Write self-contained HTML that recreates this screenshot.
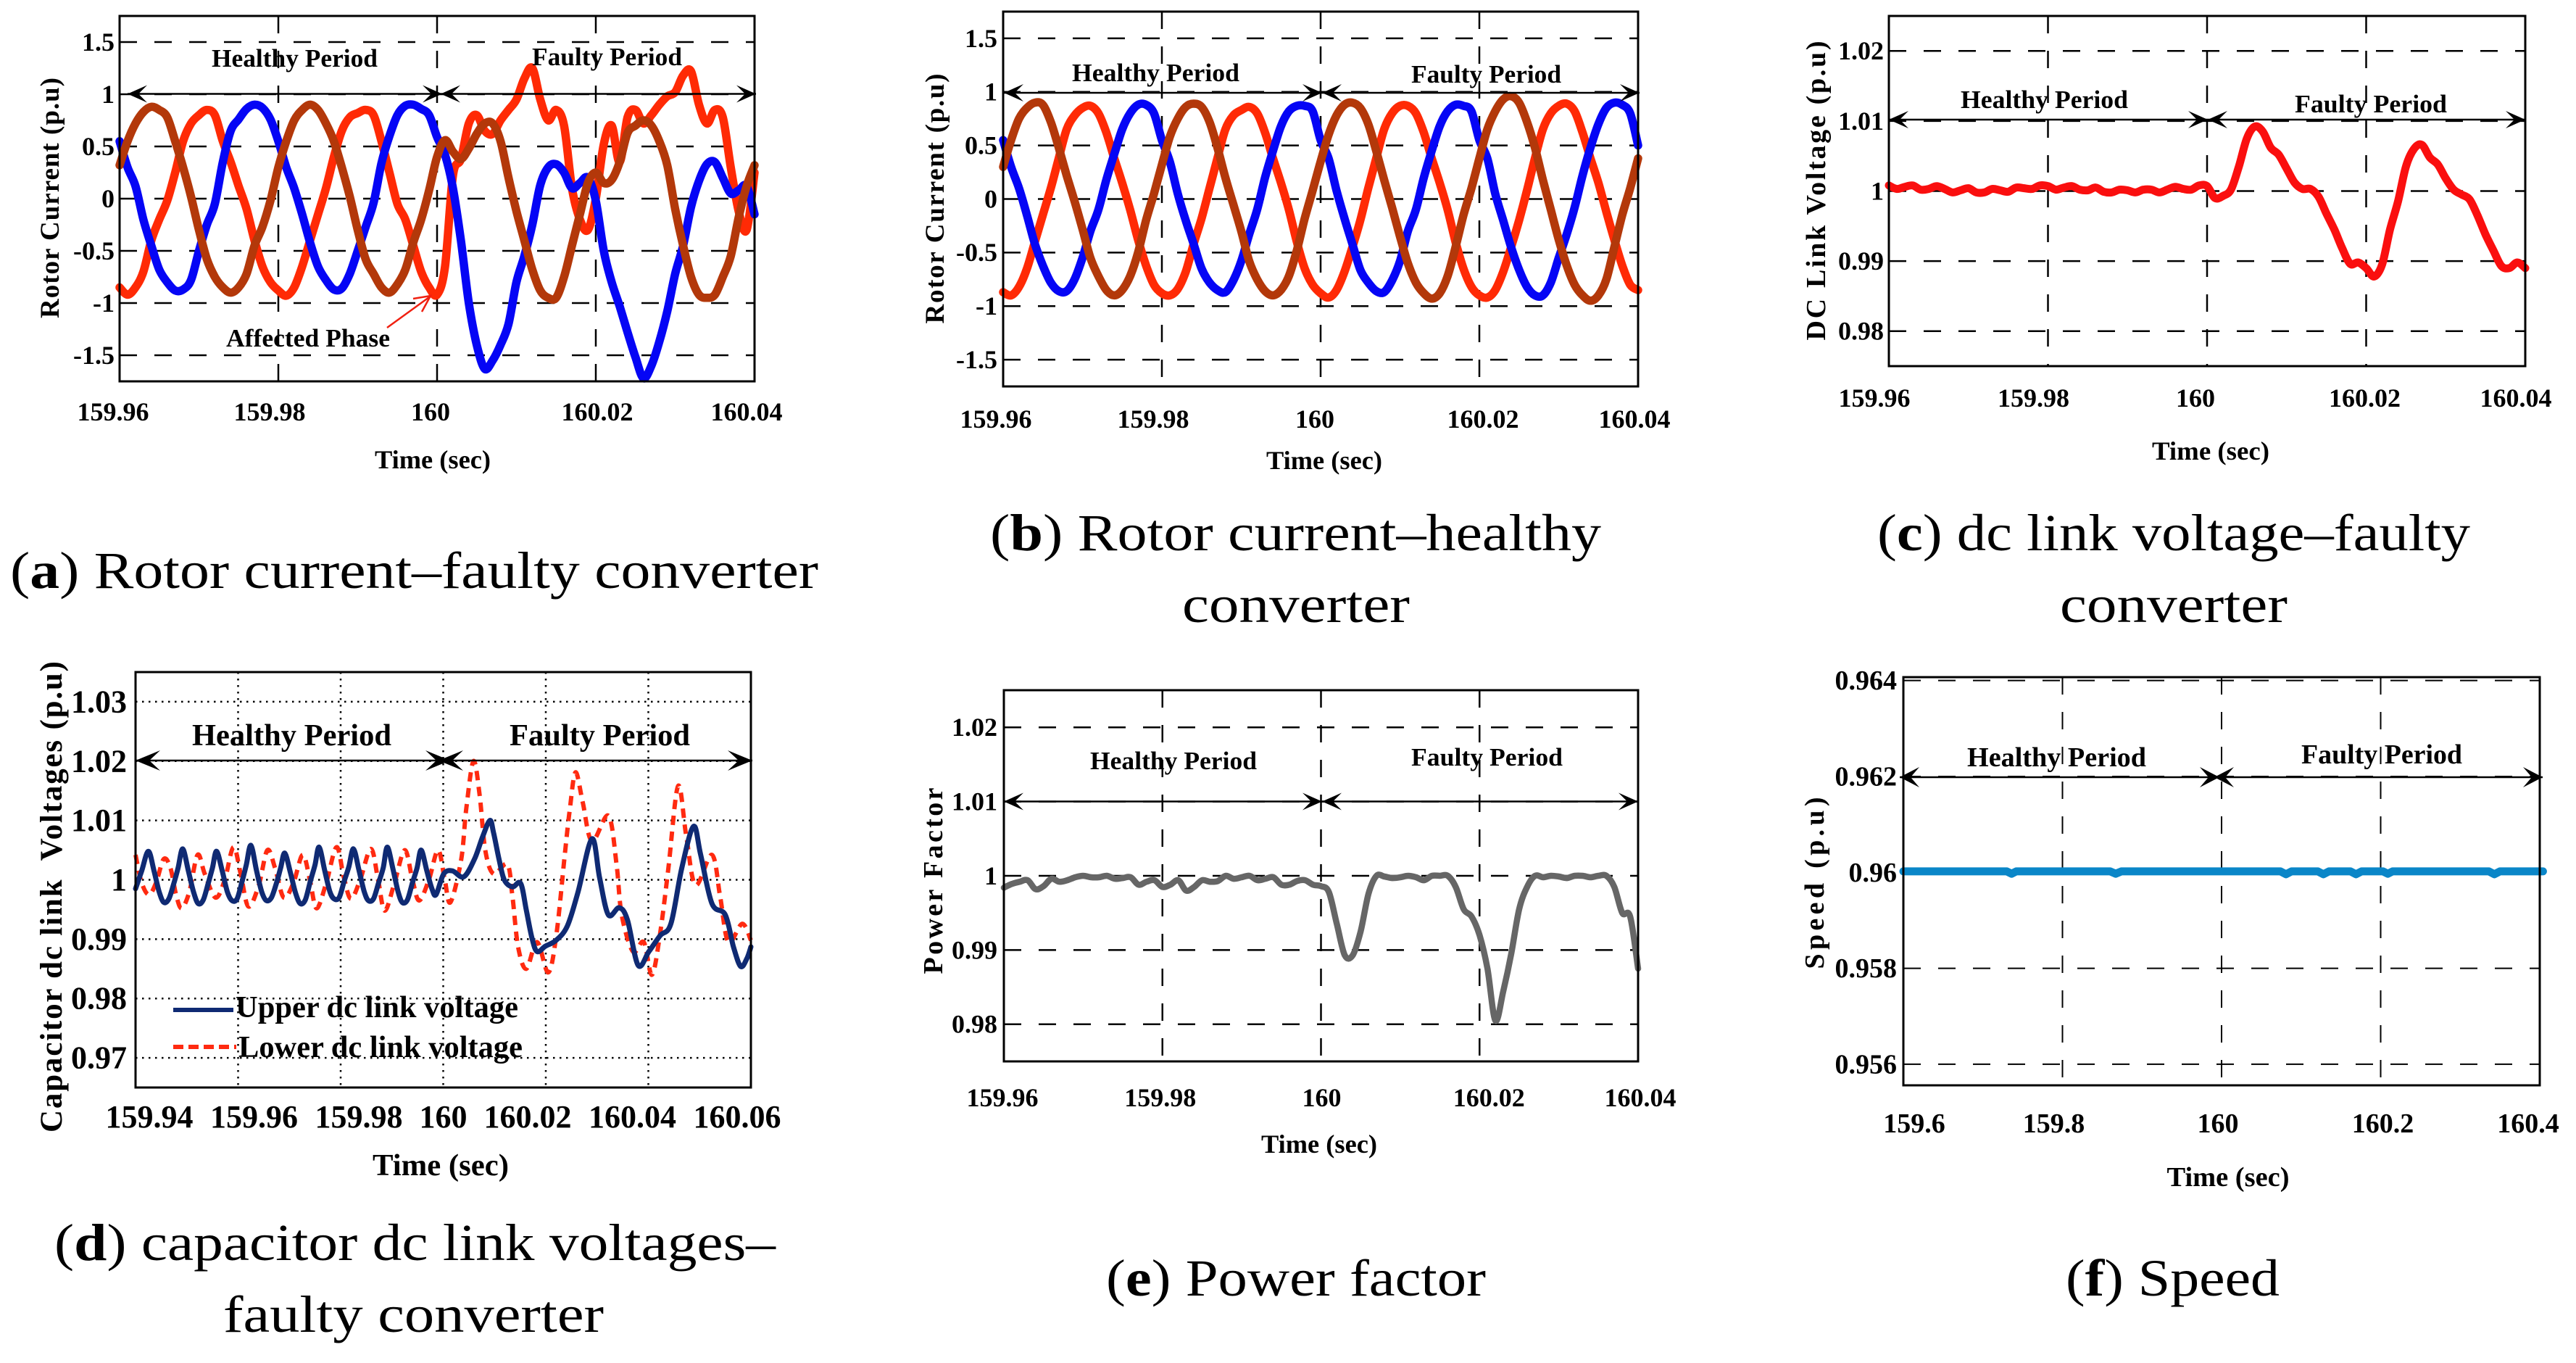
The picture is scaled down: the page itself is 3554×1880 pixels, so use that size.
<!DOCTYPE html>
<html lang="en">
<head>
<meta charset="utf-8">
<title>Converter fault simulation results</title>
<style>
html,body{margin:0;padding:0;background:#fff;}
#figure{display:block;}
text{font-family:"Liberation Serif",serif;fill:#000;}
.t{font-weight:700;}
.cap{font-size:72px;font-weight:400;}
.cap tspan{font-weight:700;}
</style>
</head>
<body>
<svg id="figure" xmlns="http://www.w3.org/2000/svg" width="3554" height="1880" viewBox="0 0 3554 1880">
<rect width="3554" height="1880" fill="#fff"/>
<g id="marks"></g>

<!-- y axis titles -->
<text class="t" transform="translate(81,273) rotate(-90)" text-anchor="middle" font-size="37" textLength="332" lengthAdjust="spacing">Rotor Current (p.u)</text>
<text class="t" transform="translate(1302,274) rotate(-90)" text-anchor="middle" font-size="37" textLength="345" lengthAdjust="spacing">Rotor Current (p.u)</text>
<text class="t" transform="translate(2518,263) rotate(-90)" text-anchor="middle" font-size="38" textLength="413" lengthAdjust="spacing">DC Link Voltage (p.u)</text>
<text class="t" transform="translate(85,1237) rotate(-90)" text-anchor="middle" font-size="43" textLength="650" lengthAdjust="spacing" xml:space="preserve">Capacitor dc link  Voltages (p.u)</text>
<text class="t" transform="translate(1300,1215) rotate(-90)" text-anchor="middle" font-size="38" textLength="257" lengthAdjust="spacing">Power Factor</text>
<text class="t" transform="translate(2516,1218) rotate(-90)" text-anchor="middle" font-size="38" textLength="237" lengthAdjust="spacing">Speed (p.u)</text>

<!-- x axis titles -->
<text class="t" x="597" y="646" text-anchor="middle" font-size="36" textLength="160" lengthAdjust="spacingAndGlyphs">Time (sec)</text>
<text class="t" x="1827" y="647" text-anchor="middle" font-size="36" textLength="160" lengthAdjust="spacingAndGlyphs">Time (sec)</text>
<text class="t" x="3050" y="634" text-anchor="middle" font-size="36" textLength="162" lengthAdjust="spacingAndGlyphs">Time (sec)</text>
<text class="t" x="608" y="1621" text-anchor="middle" font-size="42" textLength="188" lengthAdjust="spacingAndGlyphs">Time (sec)</text>
<text class="t" x="1820" y="1590" text-anchor="middle" font-size="36" textLength="160" lengthAdjust="spacingAndGlyphs">Time (sec)</text>
<text class="t" x="3074" y="1636" text-anchor="middle" font-size="38" textLength="169" lengthAdjust="spacingAndGlyphs">Time (sec)</text>

<!-- period annotations -->
<text class="t" x="292" y="92" font-size="35" textLength="229" lengthAdjust="spacingAndGlyphs">Healthy Period</text>
<text class="t" x="734" y="90" font-size="35" textLength="207" lengthAdjust="spacingAndGlyphs">Faulty Period</text>
<text class="t" x="312" y="478" font-size="35" textLength="226" lengthAdjust="spacingAndGlyphs">Affected Phase</text>
<text class="t" x="1479" y="112" font-size="35" textLength="231" lengthAdjust="spacingAndGlyphs">Healthy Period</text>
<text class="t" x="1947" y="114" font-size="35" textLength="207" lengthAdjust="spacingAndGlyphs">Faulty Period</text>
<text class="t" x="2705" y="149" font-size="35" textLength="231" lengthAdjust="spacingAndGlyphs">Healthy Period</text>
<text class="t" x="3166" y="155" font-size="35" textLength="210" lengthAdjust="spacingAndGlyphs">Faulty Period</text>
<text class="t" x="265" y="1028" font-size="42" textLength="275" lengthAdjust="spacingAndGlyphs">Healthy Period</text>
<text class="t" x="703" y="1028" font-size="42" textLength="249" lengthAdjust="spacingAndGlyphs">Faulty Period</text>
<text class="t" x="1504" y="1061" font-size="35" textLength="230" lengthAdjust="spacingAndGlyphs">Healthy Period</text>
<text class="t" x="1947" y="1056" font-size="35" textLength="209" lengthAdjust="spacingAndGlyphs">Faulty Period</text>
<text class="t" x="2714" y="1057" font-size="38" textLength="247" lengthAdjust="spacingAndGlyphs">Healthy Period</text>
<text class="t" x="3175" y="1053" font-size="38" textLength="222" lengthAdjust="spacingAndGlyphs">Faulty Period</text>

<!-- legend for panel d -->
<g>
<line x1="239" x2="322" y1="1393" y2="1393" stroke="#0f2a73" stroke-width="6"/>
<text class="t" x="325" y="1403" font-size="42" textLength="390" lengthAdjust="spacingAndGlyphs">Upper dc link voltage</text>
<line x1="239" x2="326" y1="1444" y2="1444" stroke="#ff2a10" stroke-width="6" stroke-dasharray="14 7"/>
<text class="t" x="329" y="1458" font-size="42" textLength="392" lengthAdjust="spacingAndGlyphs">Lower dc link voltage</text>
</g>

<!-- captions -->
<text class="cap" x="14" y="811" textLength="1115" lengthAdjust="spacingAndGlyphs">(<tspan>a</tspan>) Rotor current–faulty converter</text>
<text class="cap" x="1366" y="759" textLength="843" lengthAdjust="spacingAndGlyphs">(<tspan>b</tspan>) Rotor current–healthy</text>
<text class="cap" x="1631" y="858" textLength="314" lengthAdjust="spacingAndGlyphs">converter</text>
<text class="cap" x="2590" y="759" textLength="818" lengthAdjust="spacingAndGlyphs">(<tspan>c</tspan>) dc link voltage–faulty</text>
<text class="cap" x="2842" y="858" textLength="314" lengthAdjust="spacingAndGlyphs">converter</text>
<text class="cap" x="75" y="1738" textLength="995" lengthAdjust="spacingAndGlyphs">(<tspan>d</tspan>) capacitor dc link voltages–</text>
<text class="cap" x="308" y="1837" textLength="525" lengthAdjust="spacingAndGlyphs">faulty converter</text>
<text class="cap" x="1526" y="1787" textLength="524" lengthAdjust="spacingAndGlyphs">(<tspan>e</tspan>) Power factor</text>
<text class="cap" x="2850" y="1787" textLength="295" lengthAdjust="spacingAndGlyphs">(<tspan>f</tspan>) Speed</text>
</svg>

<script>
// ---------- Data. Uniform series have one sample per millisecond. ----------
const rotorXTicks = [159.96, 159.98, 160, 160.02, 160.04];
const rotorXLabels = ['159.96', '159.98', '160', '160.02', '160.04'];
const rotorYTicks = [1.5, 1, 0.5, 0, -0.5, -1, -1.5];
const rotorYLabels = ['1.5', '1', '0.5', '0', '-0.5', '-1', '-1.5'];

const faultyRed = [-.85,-.92,-.85,-.7,-.4,-.2,-.02,.25,.55,.72,.8,.85,.8,.55,.35,.12,-.1,-.4,-.65,-.8,-.88,-.93,-.85,-.65,-.4,-.15,.1,.4,.65,.78,.82,.85,.8,.55,.25,-.05,-.2,-.45,-.7,-.85,-.92,-.65,.22,.38,.72,.8,.65,.62,.75,.85,.95,1.15,1.25,.95,.75,.85,.7,.1,-.2,-.3,0,.52,.7,.35,.78,.85,.72,.8,.9,.98,1.02,1.18,1.22,.9,.72,.85,.78,.3,-.12,-.3,.25];
const faultyBlue = [.55,.3,.12,-.2,-.45,-.68,-.8,-.88,-.87,-.78,-.5,-.25,-.05,.35,.65,.76,.86,.9,.87,.76,.55,.3,.1,-.15,-.42,-.65,-.78,-.87,-.86,-.72,-.5,-.27,-.04,.34,.6,.8,.89,.9,.86,.8,.59,.42,.1,-.4,-1.0,-1.4,-1.63,-1.55,-1.4,-1.2,-.8,-.55,-.25,.13,.3,.33,.25,.1,.15,.2,-.02,-.5,-.8,-1.03,-1.28,-1.52,-1.72,-1.6,-1.37,-1.08,-.72,-.45,-.08,.17,.33,.35,.2,.05,.08,.12,-.15];
const faultyBrown = [.32,.55,.72,.83,.88,.85,.78,.55,.3,.02,-.3,-.58,-.75,-.85,-.9,-.85,-.72,-.45,-.27,-.02,.3,.55,.75,.85,.9,.85,.72,.55,.3,.02,-.3,-.58,-.72,-.85,-.9,-.82,-.68,-.42,-.2,.08,.4,.56,.45,.38,.48,.62,.72,.72,.55,.2,-.12,-.4,-.68,-.88,-.95,-.95,-.75,-.45,-.15,.15,.25,.15,.18,.35,.63,.7,.75,.7,.55,.32,-.1,-.45,-.75,-.92,-.95,-.92,-.75,-.55,-.18,.12,.32];

const healthyRed = [-.87,-.9,-.82,-.65,-.4,-.15,.1,.38,.65,.78,.85,.87,.8,.62,.38,.15,-.1,-.38,-.62,-.8,-.88,-.9,-.84,-.68,-.42,-.18,.1,.38,.65,.78,.83,.86,.8,.62,.38,.15,-.1,-.4,-.65,-.8,-.88,-.92,-.85,-.68,-.45,-.2,.1,.38,.65,.8,.87,.87,.8,.62,.38,.15,-.1,-.4,-.65,-.82,-.9,-.92,-.85,-.68,-.45,-.2,.08,.38,.65,.8,.87,.89,.82,.62,.38,.15,-.12,-.38,-.62,-.8,-.85];
const healthyBlue = [.55,.3,.1,-.15,-.42,-.62,-.78,-.86,-.86,-.75,-.55,-.3,-.1,.18,.42,.65,.8,.88,.88,.8,.55,.35,.05,-.2,-.42,-.65,-.78,-.85,-.87,-.76,-.58,-.33,-.1,.2,.45,.68,.82,.87,.87,.82,.55,.38,.08,-.18,-.42,-.66,-.78,-.86,-.87,-.76,-.58,-.3,-.1,.2,.45,.68,.82,.88,.87,.82,.55,.38,.05,-.2,-.45,-.66,-.82,-.9,-.9,-.78,-.55,-.33,-.08,.22,.48,.7,.85,.9,.88,.8,.5];
const healthyBrown = [.3,.55,.75,.85,.9,.88,.72,.48,.22,-.02,-.28,-.55,-.72,-.85,-.9,-.85,-.72,-.5,-.2,.05,.32,.58,.75,.86,.89,.86,.72,.48,.2,-.05,-.3,-.58,-.75,-.86,-.9,-.85,-.72,-.48,-.18,.08,.35,.6,.78,.88,.9,.85,.7,.45,.18,-.08,-.35,-.6,-.78,-.88,-.93,-.88,-.72,-.45,-.15,.1,.38,.65,.82,.93,.96,.9,.72,.48,.18,-.1,-.38,-.62,-.8,-.9,-.95,-.9,-.75,-.45,-.15,.1,.38];

const dcXTicks = rotorXTicks;
const dcXLabels = rotorXLabels;
const dcYTicks = [1.02, 1.01, 1, 0.99, 0.98];
const dcYLabels = ['1.02', '1.01', '1', '0.99', '0.98'];
const dcVoltage = [1.0008,1.0003,1.0006,1.0008,1.0002,1.0003,1.0007,1.0003,.9998,1.0001,1.0004,.9998,.9998,1.0003,1.0001,.9999,1.0005,1.0004,1.0003,1.0008,1.0007,1.0002,1.0005,1.0007,1.0002,1.0001,1.0005,.9999,.9998,1.0002,1.0001,.9998,1.0002,1.0002,.9998,1.0002,1.0006,1.0003,1.0002,1.0008,1.0007,.999,.9993,1.0002,1.0035,1.0075,1.0092,1.0085,1.0062,1.0052,1.0032,1.0012,1.0003,1.0003,.9992,.9968,.9945,.9918,.9896,.9898,.989,.9878,.9895,.9945,.9985,1.0035,1.006,1.0066,1.0048,1.0038,1.0018,1.0002,.9995,.9988,.9965,.9938,.9915,.9893,.989,.9898,.989];

const capXTicks = [159.94, 159.96, 159.98, 160, 160.02, 160.04, 160.06];
const capXLabels = ['159.94', '159.96', '159.98', '160', '160.02', '160.04', '160.06'];
const capYTicks = [1.03, 1.02, 1.01, 1, 0.99, 0.98, 0.97];
const capYLabels = ['1.03', '1.02', '1.01', '1', '0.99', '0.98', '0.97'];
const upperMs = [0,1.2,2.5,3.6,4.6,5.5,6.5,7.5,8.3,9.2,10.3,11.3,12.2,13.2,14.2,15,15.8,16.9,17.9,18.8,19.8,20.8,21.6,22.5,23.6,24.6,25.5,26.5,27.5,28.3,29.1,30.2,31.2,32.1,33.1,34.1,35,35.8,36.9,37.9,38.7,39.7,40.7,41.6,42.5,43.6,44.6,45.4,46.4,47.4,48.3,49.1,50.2,51.2,52,53,54,54.9,55.7,56.8,57.8,58.6,60.1,61.8,64,66.1,67.7,69.1,69.8,70.9,71.9,73.5,75.1,76.2,77.3,78.3,79.9,82,84.2,86.3,89,90.5,92.2,94.3,95.9,98,100.1,102.3,104.4,106.5,108.8,110.2,112.4,115,116.6,118,119.2,120];
const upperVoltage = [.9985,1.0015,1.0048,1.0015,.998,.9962,.9968,.9995,1.002,1.0052,1.0015,.998,.996,.9966,.9995,1.002,1.0048,1.0015,.998,.9965,.9968,.9998,1.0025,1.0058,1.0015,.998,.9965,.997,.9995,1.002,1.0045,1.0012,.9978,.996,.9966,.9998,1.0025,1.0055,1.0015,.998,.9968,.997,.9998,1.0022,1.0052,1.0015,.998,.9965,.9968,.9995,1.002,1.0055,1.0018,.998,.9962,.9966,.9995,1.002,1.005,1.0015,.9985,.9975,1.001,1.0015,1.0005,1.0035,1.0073,1.01,1.008,1.0034,1.0,.9988,.9994,.9949,.9902,.9879,.9888,.9898,.9922,.998,1.0069,1.0003,.9941,.9953,.9933,.9856,.9879,.9906,.9926,1.0019,1.009,1.0042,.996,.9941,.9887,.9854,.9867,.9887];
const lowerMs = [0,1.2,2.6,4,5.5,6.8,7.9,9,10.5,12.1,13.5,15.6,17.4,19.1,20.5,22,24,25.7,27.2,28.9,30.8,32.6,34,35.3,37.2,39.2,40.6,42,43.8,45.9,47.3,48.6,50.5,52.5,54,55.3,57.2,59,60.3,61.4,63.5,64.5,65.9,67.1,68.2,69.8,72.5,73.5,74.6,76.2,78.3,80.5,82.1,83.7,84.7,85.8,87.2,89,92.2,93.8,94.8,97,99.1,100.7,102.3,103.9,105.8,107.4,109.2,112.4,114,115.6,118.3,120];
const lowerVoltage = [1.0042,.9995,.9975,.9995,1.0035,1.002,.9975,.9952,.998,1.0042,1.001,.997,1.0,1.0055,1.001,.9955,.999,1.005,1.002,.997,.9995,1.0042,1.0,.9952,.9995,1.0055,1.0005,.9968,1.0,1.0052,1.0,.9948,.9995,1.005,1.0,.9965,1.0,1.005,1.0,.9962,1.0034,1.012,1.02,1.0143,1.005,1.001,1.0026,.9972,.9887,.985,.9895,.9844,.991,1.0042,1.012,1.0181,1.0131,1.0065,1.0108,1.0026,.9941,.9879,.9895,.984,.991,1.0019,1.0158,1.0073,.9991,1.0042,.9972,.9895,.9926,.9898];

const pfXTicks = rotorXTicks;
const pfXLabels = rotorXLabels;
const pfYTicks = [1.02, 1.01, 1, 0.99, 0.98];
const pfYLabels = ['1.02', '1.01', '1', '0.99', '0.98'];
const powerFactor = [.9984,.9989,.9992,.9994,.9982,.9986,.9996,.9992,.9994,.9998,1,.9998,.9998,1,.9996,.9997,.9998,.9988,.9992,.9994,.9985,.9988,.9994,.998,.9985,.9994,.9992,.9993,1,.9996,.9998,1,.9994,.9996,.9998,.9988,.9988,.9993,.9994,.9988,.9986,.9978,.9935,.9893,.9893,.9925,.9976,1,.9999,.9997,.9998,1,.9998,.9994,1,1,1,.9985,.9955,.9945,.992,.9875,.9805,.9845,.9895,.9955,.9985,1,.9998,1,.9999,.9997,1,1,.9998,1,1,.9985,.995,.9945,.9875];

const speedXTicks = [159.6, 159.8, 160, 160.2, 160.4];
const speedXLabels = ['159.6', '159.8', '160', '160.2', '160.4'];
const speedYTicks = [0.964, 0.962, 0.96, 0.958, 0.956];
const speedYLabels = ['0.964', '0.962', '0.96', '0.958', '0.956'];
const speedTime = [159.6,159.73,159.736,159.742,159.86,159.867,159.874,160.074,160.081,160.088,160.121,160.128,160.135,160.162,160.169,160.176,160.203,160.209,160.215,160.336,160.343,160.35,160.404];
const speedValue = [.96002,.96002,.95997,.96002,.96002,.95997,.96002,.96002,.95996,.96002,.96002,.95996,.96002,.96002,.95996,.96002,.96002,.95997,.96002,.96002,.95996,.96002,.96002];

// ---------- Layout of each panel (plot box, label placement), separate from the data ----------
const panels = [
 {id:'a', box:[165,1041,22,526], xDom:[159.96,160.04], yDom:[-1.75,1.75], xTicks:rotorXTicks, xLabels:rotorXLabels, yTicks:rotorYTicks, yLabels:rotorYLabels,
  xNudge:[-9,-12,-9,2,-11], xBase:580, yRight:158, fs:36, dash:'24 24', gridW:2.5, arrowY:129.5, tips:[176,610,608,1043], head:[27,15,12],
  series:[{n:'red',v:faultyRed,c:'#ff2a05',w:11.5,smooth:1},{n:'blue',v:faultyBlue,c:'#0505f5',w:11.5,smooth:1},{n:'brown',v:faultyBrown,c:'#b3380a',w:11.5,smooth:1}]},
 {id:'b', box:[1384,2260,16,533], xDom:[159.96,160.04], yDom:[-1.75,1.75], xTicks:rotorXTicks, xLabels:rotorXLabels, yTicks:rotorYTicks, yLabels:rotorYLabels,
  xNudge:[-10,-12,-8,5,-5], xBase:590, yRight:1376, fs:36, dash:'24 24', gridW:2.5, arrowY:128, tips:[1385,1824,1824,2262], head:[27,15,12],
  series:[{n:'red',v:healthyRed,c:'#ff2a05',w:11.5,smooth:1},{n:'blue',v:healthyBlue,c:'#0505f5',w:11.5,smooth:1},{n:'brown',v:healthyBrown,c:'#b3380a',w:11.5,smooth:1}]},
 {id:'c', box:[2606,3484,22,505], xDom:[159.96,160.04], yDom:[.975,1.025], xTicks:dcXTicks, xLabels:dcXLabels, yTicks:dcYTicks, yLabels:dcYLabels,
  xNudge:[-20,-20,-16,-2,-13], xBase:561, yRight:2599, fs:36, dash:'24 24', gridW:2.5, arrowY:165, tips:[2606,3046,3046,3484], head:[27,15,12],
  series:[{n:'dc-voltage',v:dcVoltage,c:'#fa0f0f',w:11,smooth:1}]},
 {id:'d', box:[187,1036,927,1500], xDom:[159.94,160.06], yDom:[.965,1.035], xTicks:capXTicks, xLabels:capXLabels, yTicks:capYTicks, yLabels:capYLabels,
  xNudge:[19,22,25,0,-25,-22,-19], xBase:1555, yRight:175, fs:44, dash:'2.5 6.5', gridW:2.5, arrowY:1049, tips:[187,621,605,1038], head:[34,19,14],
  series:[{n:'lower-voltage',v:lowerVoltage,ms:lowerMs,c:'#ff2a10',w:6,dash:'13 9',smooth:1},{n:'upper-voltage',v:upperVoltage,ms:upperMs,c:'#0f2a73',w:7,smooth:1}]},
 {id:'e', box:[1385,2260,952,1464], xDom:[159.96,160.04], yDom:[.975,1.025], xTicks:pfXTicks, xLabels:pfXLabels, yTicks:pfYTicks, yLabels:pfYLabels,
  xNudge:[-2,-3,1,13,3], xBase:1526, yRight:1376, fs:36, dash:'24 24', gridW:2.5, arrowY:1105.5, tips:[1385,1824,1824,2260], head:[27,15,12],
  series:[{n:'power-factor',v:powerFactor,c:'#666666',w:8.5,smooth:1}]},
 {id:'f', box:[2626,3504,934,1497], xDom:[159.6,160.4], yDom:[.95556,.96407], xTicks:speedXTicks, xLabels:speedXLabels, yTicks:speedYTicks, yLabels:speedYLabels,
  xNudge:[15,-12,-5,3,-16], xBase:1562, yRight:2617, fs:38, dash:'24 24', gridW:2, arrowY:1072, tips:[2621,3062,3055,3508], head:[27,15,14],
  series:[{n:'speed',v:speedValue,t:speedTime,c:'#0a86c8',w:11}]}
];

const NS = 'http://www.w3.org/2000/svg';
const root = document.getElementById('marks');

function make(parent, tag, name, props) {
  const el = document.createElementNS(NS, tag);
  for (const k in props) el.setAttribute(k, props[k]);
  
  
  parent.appendChild(el);
  return el;
}
function linear(d0, d1, r0, r1) {
  return function (v) { return r0 + (v - d0) / (d1 - d0) * (r1 - r0); };
}
function arrowHead(parent, name, tip, y, dir, head) {
  const L = head[0], N = head[1], H = head[2];
  const pts = [[tip, y], [tip + dir * L, y - H], [tip + dir * N, y], [tip + dir * L, y + H]];
  make(parent, 'polygon', name, {points: pts.map(function (p) { return p.join(','); }).join(' '), fill: '#000'});
}
function smoothPath(pts) {
  let d = 'M' + pts[0][0].toFixed(1) + ' ' + pts[0][1].toFixed(1);
  for (let i = 0; i < pts.length - 1; i++) {
    const p0 = pts[Math.max(i - 1, 0)], p1 = pts[i], p2 = pts[i + 1], p3 = pts[Math.min(i + 2, pts.length - 1)];
    const c1x = p1[0] + (p2[0] - p0[0]) / 6, c1y = p1[1] + (p2[1] - p0[1]) / 6;
    const c2x = p2[0] - (p3[0] - p1[0]) / 6, c2y = p2[1] - (p3[1] - p1[1]) / 6;
    d += 'C' + c1x.toFixed(1) + ' ' + c1y.toFixed(1) + ' ' + c2x.toFixed(1) + ' ' + c2y.toFixed(1) + ' ' + p2[0].toFixed(1) + ' ' + p2[1].toFixed(1);
  }
  return d;
}
function smoothPathOrLine(pts, smooth) {
  if (smooth) return smoothPath(pts);
  return 'M' + pts.map(function (q) { return q[0].toFixed(1) + ' ' + q[1].toFixed(1); }).join('L');
}

panels.forEach(function (p) {
  const left = p.box[0], right = p.box[1], top = p.box[2], bottom = p.box[3];
  const x = linear(p.xDom[0], p.xDom[1], left, right);
  const y = linear(p.yDom[0], p.yDom[1], bottom, top);
  const g = make(root, 'g', 'panel-' + p.id, {});

  p.xTicks.forEach(function (t, i) {
    make(g, 'line', p.id + '-x-gridline', {x1: x(t), x2: x(t), y1: top, y2: bottom, stroke: '#000', 'stroke-width': p.gridW, 'stroke-dasharray': p.dash});
    const lab = make(g, 'text', p.id + '-x-tick-label', {x: x(t) + p.xNudge[i], y: p.xBase, 'text-anchor': 'middle', 'font-size': p.fs, 'class': 't'});
    lab.textContent = p.xLabels[i];
  });
  p.yTicks.forEach(function (v, i) {
    make(g, 'line', p.id + '-y-gridline', {x1: left, x2: right, y1: y(v), y2: y(v), stroke: '#000', 'stroke-width': p.gridW, 'stroke-dasharray': p.dash});
    const lab = make(g, 'text', p.id + '-y-tick-label', {x: p.yRight, y: y(v) + p.fs * 0.33, 'text-anchor': 'end', 'font-size': p.fs, 'class': 't'});
    lab.textContent = p.yLabels[i];
  });

  p.series.forEach(function (s) {
    const pts = s.v.map(function (v, i) {
      const t = s.t ? s.t[i] : p.xDom[0] + (s.ms ? s.ms[i] : i) / 1000;
      return [x(t), y(v)];
    });
    const props = {d: smoothPathOrLine(pts, s.smooth), fill: 'none', stroke: s.c, 'stroke-width': s.w, 'stroke-linejoin': 'round', 'stroke-linecap': s.dash ? 'butt' : 'round'};
    if (s.dash) props['stroke-dasharray'] = s.dash;
    make(g, 'path', p.id + '-series-' + s.n, props);
  });

  make(g, 'rect', p.id + '-plot-frame', {x: left, y: top, width: right - left, height: bottom - top, fill: 'none', stroke: '#000', 'stroke-width': 3});

  make(g, 'line', p.id + '-period-span-line', {x1: p.tips[0], x2: p.tips[3], y1: p.arrowY, y2: p.arrowY, stroke: '#000', 'stroke-width': 2.5});
  arrowHead(g, p.id + '-healthy-start-arrow', p.tips[0], p.arrowY, 1, p.head);
  arrowHead(g, p.id + '-healthy-end-arrow', p.tips[1], p.arrowY, -1, p.head);
  arrowHead(g, p.id + '-faulty-start-arrow', p.tips[2], p.arrowY, 1, p.head);
  arrowHead(g, p.id + '-faulty-end-arrow', p.tips[3], p.arrowY, -1, p.head);
});

// Pointer from the "Affected Phase" label to the red trace in panel a
const pointer = make(root, 'g', 'a-affected-phase-pointer', {});
make(pointer, 'line', 'a-pointer-shaft', {x1: 534, y1: 452, x2: 592, y2: 410, stroke: '#f02010', 'stroke-width': 2.5});
make(pointer, 'polyline', 'a-pointer-head', {points: '570,412 594,408 582,430', fill: 'none', stroke: '#f02010', 'stroke-width': 2.5});
</script>
</body>
</html>
